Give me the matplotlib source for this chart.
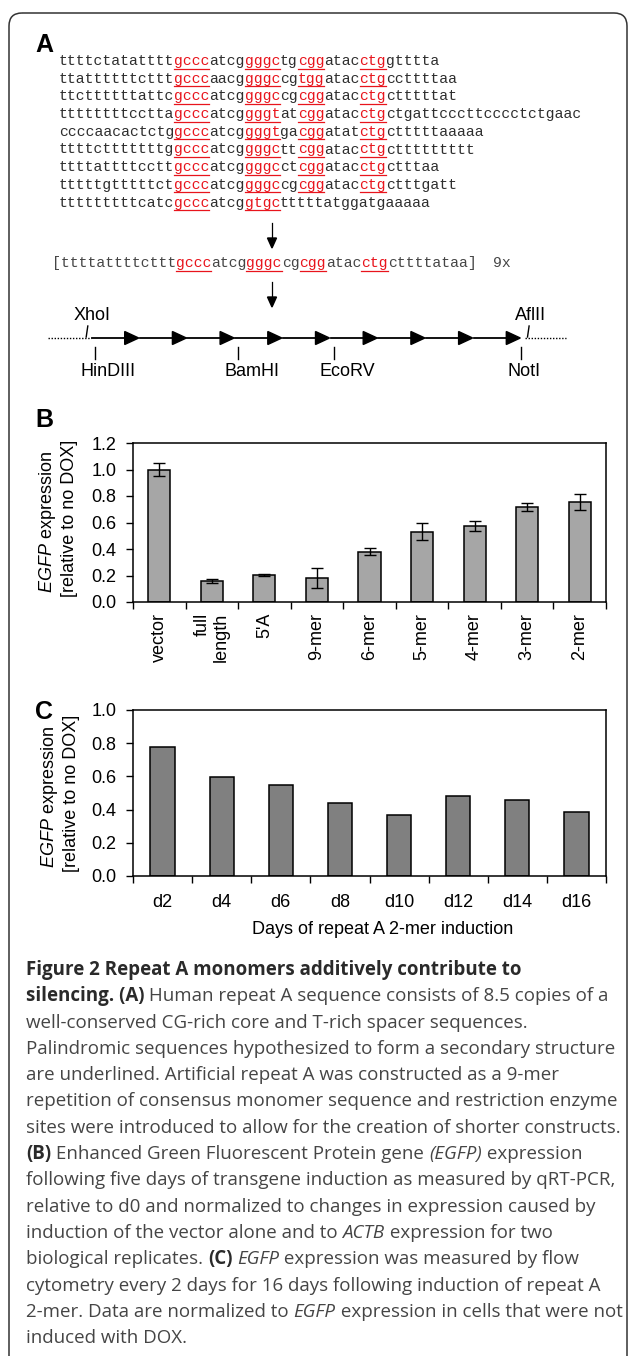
import numpy as np
import matplotlib.pyplot as plt
from matplotlib.patches import FancyBboxPatch, Polygon

plt.rcParams['font.family'] = ['Liberation Sans', 'DejaVu Sans']
plt.rcParams['mathtext.fontset'] = 'custom'
plt.rcParams['mathtext.rm'] = 'Liberation Sans'
plt.rcParams['mathtext.it'] = 'Liberation Sans:italic'

# ---- panel A: repeat A monomers (odd pieces are the red, underlined ones)
monomers = [
    ["ttttctatatttt", "gccc", "atcg", "gggc", "tg", "cgg", "atac", "ctg", "gtttta"],
    ["ttattttttcttt", "gccc", "aacg", "gggc", "cg", "tgg", "atac", "ctg", "ccttttaa"],
    ["ttcttttttattc", "gccc", "atcg", "gggc", "cg", "cgg", "atac", "ctg", "ctttttat"],
    ["ttttttttcctta", "gccc", "atcg", "gggt", "at", "cgg", "atac", "ctg", "ctgattcccttcccctctgaac"],
    ["ccccaacactctg", "gccc", "atcg", "gggt", "ga", "cgg", "atat", "ctg", "ctttttaaaaa"],
    ["ttttctttttttg", "gccc", "atcg", "gggc", "tt", "cgg", "atac", "ctg", "cttttttttt"],
    ["ttttattttcctt", "gccc", "atcg", "gggc", "ct", "cgg", "atac", "ctg", "ctttaa"],
    ["tttttgtttttct", "gccc", "atcg", "gggc", "cg", "cgg", "atac", "ctg", "ctttgatt"],
    ["tttttttttcatc", "gccc", "atcg", "gtgc", "tttttatggatgaaaaa"],
]
consensus = ["[ttttattttcttt", "gccc", "atcg", "gggc", "cg", "cgg", "atac", "ctg", "cttttataa]"]
n_copies = "9x"
n_repeats = 9
sites_top = ["XhoI", "AflII"]
sites_top_at = [0, 9]          # position in repeat units
sites_bottom = ["HinDIII", "BamHI", "EcoRV", "NotI"]
sites_bottom_at = [0, 3, 5, 9]

# ---- panel B
constructs = ["vector", "full\nlength", "5'A", "9-mer", "6-mer", "5-mer", "4-mer", "3-mer", "2-mer"]
expr_b = [1.00, 0.157, 0.206, 0.181, 0.380, 0.532, 0.574, 0.715, 0.755]
err_b = [0.050, 0.015, 0.006, 0.079, 0.025, 0.065, 0.037, 0.030, 0.063]

# ---- panel C
days = ["d2", "d4", "d6", "d8", "d10", "d12", "d14", "d16"]
expr_c = [0.777, 0.594, 0.548, 0.438, 0.369, 0.480, 0.460, 0.386]

caption = [
    [("Figure 2 Repeat A monomers additively contribute to", "b")],
    [("silencing. (A)", "b"), (" Human repeat A sequence consists of 8.5 copies of a", "r")],
    [("well-conserved CG-rich core and T-rich spacer sequences.", "r")],
    [("Palindromic sequences hypothesized to form a secondary structure", "r")],
    [("are underlined. Artificial repeat A was constructed as a 9-mer", "r")],
    [("repetition of consensus monomer sequence and restriction enzyme", "r")],
    [("sites were introduced to allow for the creation of shorter constructs.", "r")],
    [("(B)", "b"), (" Enhanced Green Fluorescent Protein gene ", "r"), ("(EGFP)", "i"), (" expression", "r")],
    [("following five days of transgene induction as measured by qRT-PCR,", "r")],
    [("relative to d0 and normalized to changes in expression caused by", "r")],
    [("induction of the vector alone and to ", "r"), ("ACTB", "i"), (" expression for two", "r")],
    [("biological replicates. ", "r"), ("(C)", "b"), (" ", "r"), ("EGFP", "i"),
     (" expression was measured by flow", "r")],
    [("cytometry every 2 days for 16 days following induction of repeat A", "r")],
    [("2-mer. Data are normalized to ", "r"), ("EGFP", "i"), (" expression in cells that were not", "r")],
    [("induced with DOX.", "r")],
]

W, H = 629, 1356
RED = "#e8141c"
DARK = "#2e2e2e"

fig = plt.figure(figsize=(W / 100, H / 100), dpi=100)
bg = fig.add_axes([0, 0, 1, 1])
bg.set_xlim(0, W)
bg.set_ylim(H, 0)
bg.axis("off")
renderer = fig.canvas.get_renderer()

bg.add_patch(FancyBboxPatch((9, 13), 618, 1400, boxstyle="round,pad=0,rounding_size=13",
                            fill=False, lw=1.1, ec="#333333"))

for lab, y in [("A", 45), ("B", 420), ("C", 712)]:
    bg.text(35, y, lab, fontsize=18, fontweight="bold", va="center", ha="left")

# sequences
cw = 8.84
fs_mono = cw / 0.6 * 72 / 100


def seq_line(x0, y, parts, color):
    col = 0
    for j, seg in enumerate(parts):
        red = j % 2 == 1
        bg.text(x0 + col * cw, y, seg, family="Liberation Mono", fontsize=fs_mono,
                color=RED if red else color, va="baseline", ha="left")
        if red:
            bg.plot([x0 + col * cw, x0 + (col + len(seg)) * cw], [y + 3.5] * 2, color=RED, lw=0.9)
        col += len(seg)
    return x0 + col * cw


for i, parts in enumerate(monomers):
    seq_line(59, 65 + i * 17.7, parts, DARK)

end = seq_line(52, 267, consensus, "#454545")
bg.text(493, 267, n_copies, family="Liberation Mono", fontsize=fs_mono, color="#454545", va="baseline")


def down_arrow(x, y0, y1):
    bg.plot([x, x], [y0, y1 - 9], color="black", lw=0.9)
    bg.add_patch(Polygon([(x - 4.5, y1 - 10), (x + 4.5, y1 - 10), (x, y1)], color="black"))


down_arrow(272, 223, 248)
down_arrow(272, 282, 307)

# repeat construct diagram
ly = 338
xs, L = 92, 47.7
bg.plot([48, xs - 1], [ly, ly], color="black", lw=1.0, ls=(0, (1, 1.2)))
bg.plot([xs + n_repeats * L + 4, 566], [ly, ly], color="black", lw=1.0, ls=(0, (1, 1.2)))
for k in range(n_repeats):
    a = xs + k * L
    tip = a + L - 1
    bg.plot([a, tip - 12], [ly, ly], color="black", lw=1.3)
    bg.add_patch(Polygon([(tip - 14, ly - 6.5), (tip - 14, ly + 6.5), (tip, ly)], color="black"))
for name, k in zip(sites_top, sites_top_at):
    x = xs + k * L - 5 + (0 if k == 0 else 12)
    bg.plot([x - 0.8, x + 0.8], [337, 326], color="black", lw=1.0)
    bg.text(x - 13, 315, name, fontsize=13, va="center", ha="left")
for name, k in zip(sites_bottom, sites_bottom_at):
    x = xs + k * L + 3 - (3 if k == 9 else 0)
    bg.plot([x, x], [347, 359], color="black", lw=1.0)
    bg.text(x - 14, 372, name, fontsize=13, va="center", ha="left")


def px_axes(l, t, r, b):
    return fig.add_axes([l / W, 1 - b / H, (r - l) / W, (b - t) / H])


def style_axes(ax, n, ymax, labels, pad, rot):
    ax.set_xlim(-0.5, n - 0.5)
    ax.set_ylim(0, ymax)
    ax.set_yticks(np.arange(0, ymax + 0.01, 0.2))
    ax.set_yticklabels(["%.1f" % v for v in np.arange(0, ymax + 0.01, 0.2)], fontsize=13)
    ax.set_xticks(np.arange(n))
    ax.set_xticklabels(labels, fontsize=13, rotation=rot, va="top", ha="center",
                       multialignment="right" if rot else "center")
    ax.set_xticks(np.arange(n + 1) - 0.5, minor=True)
    ax.tick_params(axis="x", which="major", length=0, pad=pad)
    ax.tick_params(axis="x", which="minor", length=5, width=1.0, direction="out")
    ax.tick_params(axis="y", length=5, width=1.0, direction="out", pad=7)
    for s in ax.spines.values():
        s.set_linewidth(1.1)


axb = px_axes(133, 443, 606, 602)
xb = np.arange(len(constructs))
axb.bar(xb, expr_b, width=0.42, color="#a6a6a6", edgecolor="black", linewidth=1.1,
        yerr=err_b, capsize=4.5, error_kw=dict(elinewidth=1.0, capthick=1.0, ecolor="black"))
style_axes(axb, len(constructs), 1.2, constructs, 8, 90)

axc = px_axes(133, 710, 606, 876)
xc = np.arange(len(days))
axc.bar(xc, expr_c, width=0.41, color="#808080", edgecolor="black", linewidth=1.1)
style_axes(axc, len(days), 1.0, days, 13, 0)

for yc, x1 in ((522, 47), (797, 49)):
    bg.text(x1, yc, r"$\mathit{EGFP}$ expression", fontsize=13, rotation=90, va="center", ha="center")
    bg.text(x1 + 22, yc - 4, "[relative to no DOX]", fontsize=13, rotation=90, va="center", ha="center")
bg.text(383, 930, "Days of repeat A 2-mer induction", fontsize=13, va="center", ha="center")

# caption
CAP = "Open Sans"
styles = {"r": dict(fontweight="normal", fontstyle="normal", color="#454545"),
          "b": dict(fontweight="bold", fontstyle="normal", color="#2a2a2a"),
          "i": dict(fontweight="normal", fontstyle="italic", color="#454545")}


def measure(s, size, st):
    t1 = bg.text(0, 0, "|" + s + "|", family=CAP, fontsize=size, **styles[st])
    t2 = bg.text(0, 0, "||", family=CAP, fontsize=size, **styles[st])
    w = t1.get_window_extent(renderer).width - t2.get_window_extent(renderer).width
    t1.remove()
    t2.remove()
    return w


cap_size = 10 * 594 / measure(caption[6][0][0], 10, "r")
for i, line in enumerate(caption):
    x = 26
    y = 975 + i * 26.3
    for s, st in line:
        bg.text(x, y, s, family=CAP, fontsize=cap_size, va="baseline", ha="left", **styles[st])
        x += measure(s, cap_size, st)

fig.savefig("out.png", dpi=100)
